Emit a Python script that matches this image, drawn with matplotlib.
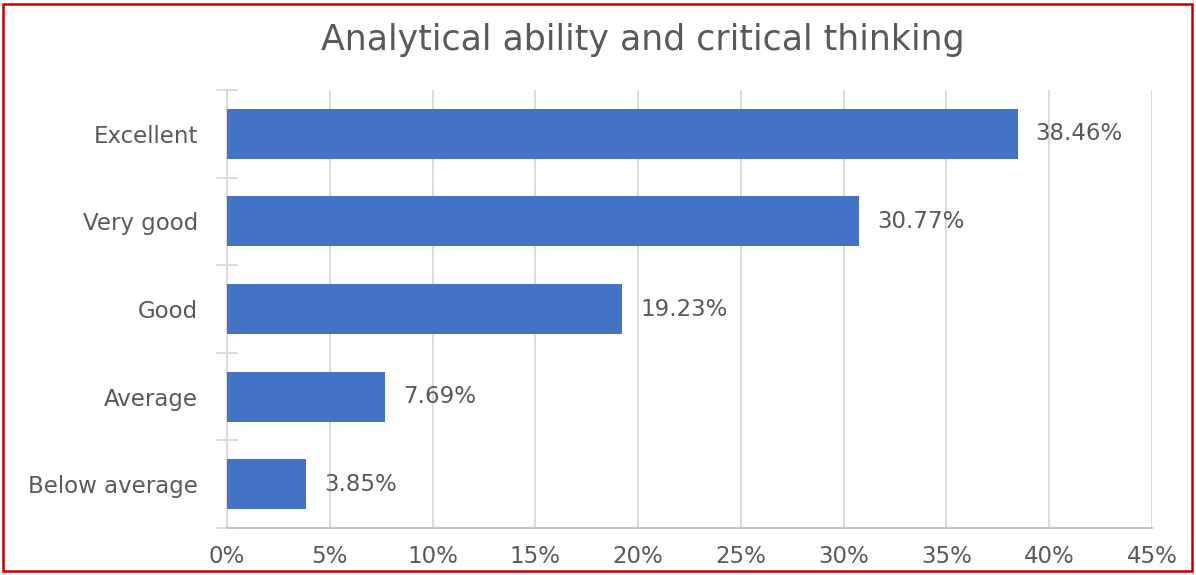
import matplotlib
matplotlib.use('Agg')
import matplotlib.pyplot as plt
from matplotlib.patches import Rectangle
import numpy as np

# data
categories = ['Excellent', 'Very good', 'Good', 'Average', 'Below average']
values = [38.46, 30.77, 19.23, 7.69, 3.85]
x_ticks = [0, 5, 10, 15, 20, 25, 30, 35, 40, 45]

text_gray = '#595959'
bar_blue = '#4472C4'

plt.rcParams['font.family'] = 'DejaVu Sans'

fig = plt.figure(figsize=(11.96, 5.75), dpi=100)
ax = fig.add_axes([227 / 1196, 1 - 528 / 575, 925 / 1196, 438 / 575])

y = np.arange(len(categories))
ax.barh(y, values, height=0.57, color=bar_blue, zorder=3)

# value labels to the right of each bar
for yi, v in zip(y, values):
    ax.annotate(f'{v:.2f}%', xy=(v, yi), xytext=(13, 0),
                textcoords='offset points', va='center', ha='left',
                fontsize=16.5, color=text_gray)

ax.set_xlim(0, 45)
ax.set_ylim(len(categories) - 0.5, -0.5)
ax.set_xticks(x_ticks)
ax.set_xticklabels([f'{t}%' for t in x_ticks])
ax.set_yticks(y)
ax.set_yticklabels(categories)
ax.set_yticks(np.arange(len(categories) + 1) - 0.5, minor=True)

ax.tick_params(axis='x', length=0, pad=12, labelsize=16.5, labelcolor=text_gray)
ax.tick_params(axis='y', which='major', length=0, pad=21, labelsize=16.5,
               labelcolor=text_gray)
ax.tick_params(axis='y', which='minor', direction='inout', length=16,
               width=1.3, color='#D9D9D9')

ax.grid(axis='x', color='#D9D9D9', linewidth=1.3, zorder=0)
ax.set_axisbelow(True)
for side in ['top', 'right']:
    ax.spines[side].set_visible(False)
ax.spines['left'].set_color('#D9D9D9')
ax.spines['left'].set_linewidth(1.3)
ax.spines['bottom'].set_color('#BFBFBF')
ax.spines['bottom'].set_linewidth(1.3)

fig.text(643 / 1196, 1 - 40 / 575, 'Analytical ability and critical thinking',
         ha='center', va='center', fontsize=25, color=text_gray)

# red frame around the whole chart
fig.patches.append(Rectangle((3 / 1196, 4 / 575), 1189 / 1196, 567 / 575,
                             transform=fig.transFigure, fill=False,
                             edgecolor='#C00000', linewidth=1.8))

fig.savefig('out.png', dpi=100, facecolor='white')
plt.close(fig)
